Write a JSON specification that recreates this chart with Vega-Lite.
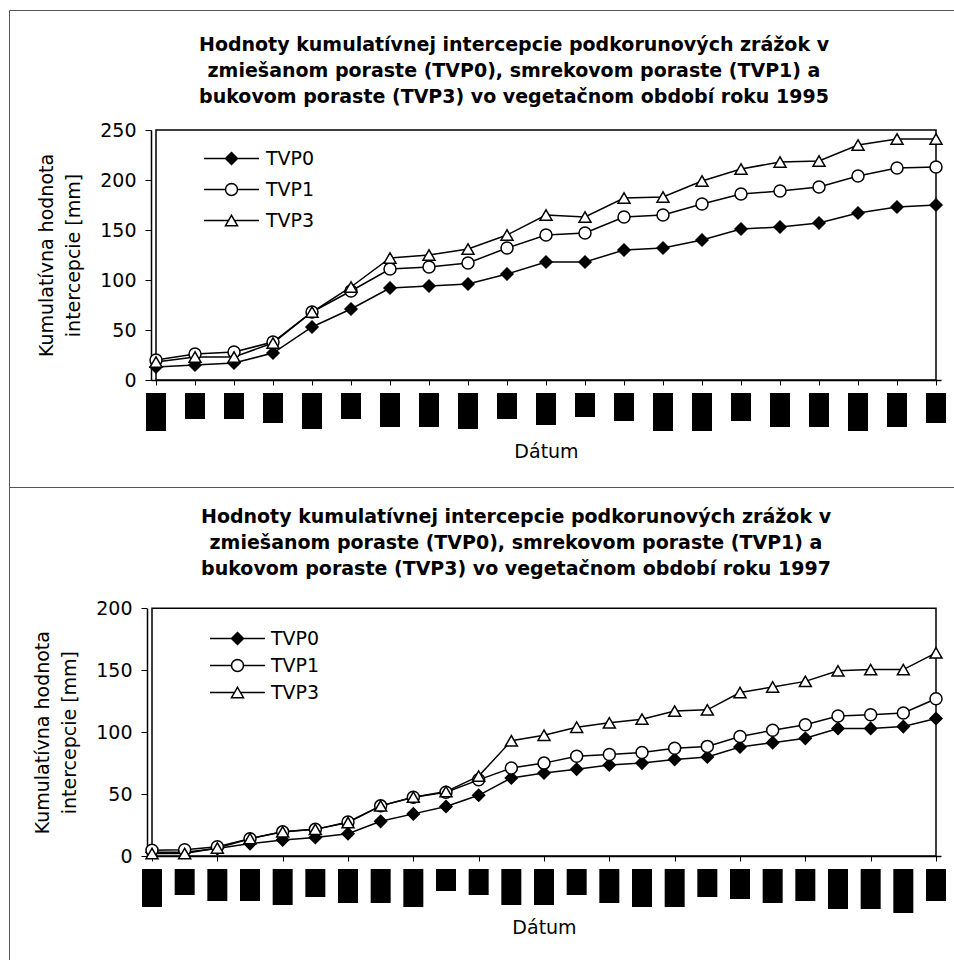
{
  "$schema": "https://vega.github.io/schema/vega-lite/v6.json",
  "padding": {"left": 8, "top": 9, "right": 0, "bottom": 0},
  "bounds": "flush",
  "spacing": 0,
  "resolve": {"scale": {"shape": "independent", "fill": "independent"}, "legend": {"shape": "independent", "fill": "independent"}},
  "config": {
    "font": "DejaVu Sans",
    "view": {"stroke": "#555555", "strokeWidth": 1},
    "axis": {
      "grid": false,
      "domainColor": "black",
      "domainWidth": 1.5,
      "tickColor": "black",
      "tickWidth": 1,
      "labelFont": "DejaVu Sans",
      "labelFontSize": 19,
      "labelColor": "black",
      "titleFont": "DejaVu Sans",
      "titleFontSize": 19,
      "titleFontWeight": "normal",
      "titleColor": "black"
    },
    "title": {
      "font": "DejaVu Sans",
      "fontSize": 19,
      "fontWeight": "bold",
      "color": "black",
      "lineHeight": 26,
      "anchor": "middle",
      "frame": "group"
    }
  },
  "datasets": {
    "s1995": [
      {"i": 1, "serie": "TVP0", "v": 13}, {"i": 2, "serie": "TVP0", "v": 15}, {"i": 3, "serie": "TVP0", "v": 17},
      {"i": 4, "serie": "TVP0", "v": 27}, {"i": 5, "serie": "TVP0", "v": 53}, {"i": 6, "serie": "TVP0", "v": 71},
      {"i": 7, "serie": "TVP0", "v": 92}, {"i": 8, "serie": "TVP0", "v": 94}, {"i": 9, "serie": "TVP0", "v": 96},
      {"i": 10, "serie": "TVP0", "v": 106}, {"i": 11, "serie": "TVP0", "v": 118}, {"i": 12, "serie": "TVP0", "v": 118},
      {"i": 13, "serie": "TVP0", "v": 130}, {"i": 14, "serie": "TVP0", "v": 132}, {"i": 15, "serie": "TVP0", "v": 140},
      {"i": 16, "serie": "TVP0", "v": 151}, {"i": 17, "serie": "TVP0", "v": 153}, {"i": 18, "serie": "TVP0", "v": 157},
      {"i": 19, "serie": "TVP0", "v": 167}, {"i": 20, "serie": "TVP0", "v": 173}, {"i": 21, "serie": "TVP0", "v": 175},
      {"i": 1, "serie": "TVP1", "v": 20}, {"i": 2, "serie": "TVP1", "v": 26}, {"i": 3, "serie": "TVP1", "v": 28},
      {"i": 4, "serie": "TVP1", "v": 38}, {"i": 5, "serie": "TVP1", "v": 68}, {"i": 6, "serie": "TVP1", "v": 89},
      {"i": 7, "serie": "TVP1", "v": 111}, {"i": 8, "serie": "TVP1", "v": 113}, {"i": 9, "serie": "TVP1", "v": 117},
      {"i": 10, "serie": "TVP1", "v": 132}, {"i": 11, "serie": "TVP1", "v": 145}, {"i": 12, "serie": "TVP1", "v": 147},
      {"i": 13, "serie": "TVP1", "v": 163}, {"i": 14, "serie": "TVP1", "v": 165}, {"i": 15, "serie": "TVP1", "v": 176},
      {"i": 16, "serie": "TVP1", "v": 186}, {"i": 17, "serie": "TVP1", "v": 189}, {"i": 18, "serie": "TVP1", "v": 193},
      {"i": 19, "serie": "TVP1", "v": 204}, {"i": 20, "serie": "TVP1", "v": 212}, {"i": 21, "serie": "TVP1", "v": 213},
      {"i": 1, "serie": "TVP3", "v": 18}, {"i": 2, "serie": "TVP3", "v": 23}, {"i": 3, "serie": "TVP3", "v": 23},
      {"i": 4, "serie": "TVP3", "v": 37}, {"i": 5, "serie": "TVP3", "v": 68}, {"i": 6, "serie": "TVP3", "v": 93},
      {"i": 7, "serie": "TVP3", "v": 122}, {"i": 8, "serie": "TVP3", "v": 125}, {"i": 9, "serie": "TVP3", "v": 131},
      {"i": 10, "serie": "TVP3", "v": 145}, {"i": 11, "serie": "TVP3", "v": 165}, {"i": 12, "serie": "TVP3", "v": 163},
      {"i": 13, "serie": "TVP3", "v": 182}, {"i": 14, "serie": "TVP3", "v": 183}, {"i": 15, "serie": "TVP3", "v": 199},
      {"i": 16, "serie": "TVP3", "v": 211}, {"i": 17, "serie": "TVP3", "v": 218}, {"i": 18, "serie": "TVP3", "v": 219},
      {"i": 19, "serie": "TVP3", "v": 235}, {"i": 20, "serie": "TVP3", "v": 241}, {"i": 21, "serie": "TVP3", "v": 241}
    ],
    "l1995": [
      {"i": 1, "len": 38}, {"i": 2, "len": 26}, {"i": 3, "len": 26}, {"i": 4, "len": 30}, {"i": 5, "len": 36},
      {"i": 6, "len": 26}, {"i": 7, "len": 34}, {"i": 8, "len": 34}, {"i": 9, "len": 36}, {"i": 10, "len": 26},
      {"i": 11, "len": 32}, {"i": 12, "len": 24}, {"i": 13, "len": 28}, {"i": 14, "len": 38}, {"i": 15, "len": 38},
      {"i": 16, "len": 28}, {"i": 17, "len": 34}, {"i": 18, "len": 34}, {"i": 19, "len": 38}, {"i": 20, "len": 34},
      {"i": 21, "len": 30}
    ],
    "s1997": [
      {"i": 1, "serie": "TVP0", "v": 3}, {"i": 2, "serie": "TVP0", "v": 3}, {"i": 3, "serie": "TVP0", "v": 6},
      {"i": 4, "serie": "TVP0", "v": 10}, {"i": 5, "serie": "TVP0", "v": 13}, {"i": 6, "serie": "TVP0", "v": 15},
      {"i": 7, "serie": "TVP0", "v": 18}, {"i": 8, "serie": "TVP0", "v": 28}, {"i": 9, "serie": "TVP0", "v": 34},
      {"i": 10, "serie": "TVP0", "v": 40}, {"i": 11, "serie": "TVP0", "v": 49}, {"i": 12, "serie": "TVP0", "v": 63},
      {"i": 13, "serie": "TVP0", "v": 67}, {"i": 14, "serie": "TVP0", "v": 70}, {"i": 15, "serie": "TVP0", "v": 73.5},
      {"i": 16, "serie": "TVP0", "v": 75}, {"i": 17, "serie": "TVP0", "v": 78}, {"i": 18, "serie": "TVP0", "v": 80},
      {"i": 19, "serie": "TVP0", "v": 88}, {"i": 20, "serie": "TVP0", "v": 91.5}, {"i": 21, "serie": "TVP0", "v": 95},
      {"i": 22, "serie": "TVP0", "v": 103}, {"i": 23, "serie": "TVP0", "v": 103}, {"i": 24, "serie": "TVP0", "v": 104.5},
      {"i": 25, "serie": "TVP0", "v": 111},
      {"i": 1, "serie": "TVP1", "v": 4.6}, {"i": 2, "serie": "TVP1", "v": 5}, {"i": 3, "serie": "TVP1", "v": 7.5},
      {"i": 4, "serie": "TVP1", "v": 14}, {"i": 5, "serie": "TVP1", "v": 19.5}, {"i": 6, "serie": "TVP1", "v": 21.5},
      {"i": 7, "serie": "TVP1", "v": 27.5}, {"i": 8, "serie": "TVP1", "v": 40.5}, {"i": 9, "serie": "TVP1", "v": 47.5},
      {"i": 10, "serie": "TVP1", "v": 51.5}, {"i": 11, "serie": "TVP1", "v": 61.5}, {"i": 12, "serie": "TVP1", "v": 71},
      {"i": 13, "serie": "TVP1", "v": 75}, {"i": 14, "serie": "TVP1", "v": 80.5}, {"i": 15, "serie": "TVP1", "v": 82},
      {"i": 16, "serie": "TVP1", "v": 83.5}, {"i": 17, "serie": "TVP1", "v": 87}, {"i": 18, "serie": "TVP1", "v": 88.5},
      {"i": 19, "serie": "TVP1", "v": 96.5}, {"i": 20, "serie": "TVP1", "v": 101.5}, {"i": 21, "serie": "TVP1", "v": 106},
      {"i": 22, "serie": "TVP1", "v": 113}, {"i": 23, "serie": "TVP1", "v": 114}, {"i": 24, "serie": "TVP1", "v": 115.5},
      {"i": 25, "serie": "TVP1", "v": 127},
      {"i": 1, "serie": "TVP3", "v": 2}, {"i": 2, "serie": "TVP3", "v": 2}, {"i": 3, "serie": "TVP3", "v": 6.5},
      {"i": 4, "serie": "TVP3", "v": 14}, {"i": 5, "serie": "TVP3", "v": 19.5}, {"i": 6, "serie": "TVP3", "v": 21.5},
      {"i": 7, "serie": "TVP3", "v": 27}, {"i": 8, "serie": "TVP3", "v": 40.5}, {"i": 9, "serie": "TVP3", "v": 47.5},
      {"i": 10, "serie": "TVP3", "v": 52}, {"i": 11, "serie": "TVP3", "v": 64.5}, {"i": 12, "serie": "TVP3", "v": 93},
      {"i": 13, "serie": "TVP3", "v": 97.5}, {"i": 14, "serie": "TVP3", "v": 104}, {"i": 15, "serie": "TVP3", "v": 107.5},
      {"i": 16, "serie": "TVP3", "v": 110.5}, {"i": 17, "serie": "TVP3", "v": 117}, {"i": 18, "serie": "TVP3", "v": 118},
      {"i": 19, "serie": "TVP3", "v": 132}, {"i": 20, "serie": "TVP3", "v": 136.5}, {"i": 21, "serie": "TVP3", "v": 141},
      {"i": 22, "serie": "TVP3", "v": 149.5}, {"i": 23, "serie": "TVP3", "v": 150.5}, {"i": 24, "serie": "TVP3", "v": 150.5},
      {"i": 25, "serie": "TVP3", "v": 164}
    ],
    "l1997": [
      {"i": 1, "len": 38}, {"i": 2, "len": 26}, {"i": 3, "len": 32}, {"i": 4, "len": 32}, {"i": 5, "len": 36},
      {"i": 6, "len": 28}, {"i": 7, "len": 34}, {"i": 8, "len": 34}, {"i": 9, "len": 38}, {"i": 10, "len": 22},
      {"i": 11, "len": 26}, {"i": 12, "len": 36}, {"i": 13, "len": 36}, {"i": 14, "len": 26}, {"i": 15, "len": 34},
      {"i": 16, "len": 38}, {"i": 17, "len": 38}, {"i": 18, "len": 28}, {"i": 19, "len": 30}, {"i": 20, "len": 34},
      {"i": 21, "len": 32}, {"i": 22, "len": 40}, {"i": 23, "len": 40}, {"i": 24, "len": 44}, {"i": 25, "len": 32}
    ]
  },
  "vconcat": [
    {
      "width": 948,
      "height": 477,
      "title": {
        "text": [
          "Hodnoty kumulatívnej intercepcie podkorunových zrážok v",
          "zmiešanom poraste (TVP0), smrekovom poraste (TVP1) a",
          "bukovom poraste (TVP3) vo vegetačnom období roku 1995"
        ],
        "offset": -97,
        "dx": 31
      },
      "layer": [
        {
          "data": {"name": "s1995"},
          "layer": [
            {
              "mark": {"type": "rect", "filled": false, "color": "black", "strokeWidth": 1.5},
              "encoding": {
                "x": {"aggregate": "min", "field": "i", "type": "quantitative",
                      "scale": {"domain": [1, 21], "range": [142, 932], "nice": false, "zero": false},
                      "axis": {"values": [1,2,3,4,5,6,7,8,9,10,11,12,13,14,15,16,17,18,19,20,21], "offset": -107, "labels": false, "tickSize": 5, "title": "Dátum", "titlePadding": 57}},
                "x2": {"aggregate": "max", "field": "i"},
                "y": {"datum": 0, "type": "quantitative",
                      "scale": {"domain": [0, 250], "range": [370, 120], "nice": false, "zero": false},
                      "axis": {"values": [0, 50, 100, 150, 200, 250], "offset": -142, "tickSize": 6, "labelPadding": 9,
                               "title": ["Kumulatívna hodnota", "intercepcie [mm]"], "titlePadding": 16, "titleLineHeight": 27}},
                "y2": {"datum": 250}
              }
            },
            {
              "mark": {"type": "line", "color": "black", "strokeWidth": 1.5},
              "encoding": {
                "x": {"field": "i", "type": "quantitative"},
                "y": {"field": "v", "type": "quantitative"},
                "detail": {"field": "serie", "type": "nominal"}
              }
            },
            {
              "mark": {"type": "point", "filled": true, "size": 144, "stroke": "black", "strokeWidth": 1.5, "opacity": 1},
              "encoding": {
                "x": {"field": "i", "type": "quantitative"},
                "y": {"field": "v", "type": "quantitative"},
                "shape": {"field": "serie", "type": "nominal",
                  "scale": {"domain": ["TVP3", "TVP1", "TVP0"], "range": ["triangle-up", "circle", "diamond"]},
                  "legend": null},
                "fill": {"field": "serie", "type": "nominal",
                  "scale": {"domain": ["TVP1", "TVP0", "TVP3"], "range": ["white", "black", "white"]},
                  "legend": null}
              }
            },
            {
              "transform": [{"filter": "datum.v < 0"}],
              "mark": {"type": "point", "filled": true, "size": 144, "color": "white", "stroke": "black", "strokeWidth": 1.5, "opacity": 1},
              "encoding": {
                "x": {"field": "i", "type": "quantitative"},
                "y": {"field": "v", "type": "quantitative"},
                "shape": {"field": "serie", "type": "nominal",
                  "scale": {"domain": ["TVP0", "TVP1", "TVP3"], "range": [
                    "M-4.583,0H4.583M0,-1L1,0L0,1L-1,0ZM0,-0.75L0.75,0L0,0.75L-0.75,0ZM0,-0.5L0.5,0L0,0.5L-0.5,0ZM0,-0.25L0.25,0L0,0.25L-0.25,0Z",
                    "M-4.583,0H-1M1,0H4.583M1,0L0.9239,0.3827L0.7071,0.7071L0.3827,0.9239L0,1L-0.3827,0.9239L-0.7071,0.7071L-0.9239,0.3827L-1,0L-0.9239,-0.3827L-0.7071,-0.7071L-0.3827,-0.9239L0,-1L0.3827,-0.9239L0.7071,-0.7071L0.9239,-0.3827Z",
                    "M-4.583,0H-0.5M0.5,0H4.583M0,-0.866L1,0.866L-1,0.866Z"
                  ]},
                  "legend": {
                    "title": null, "orient": "none", "legendX": 213, "legendY": 139, "padding": 0,
                    "symbolSize": 144, "labelOffset": 25, "labelFont": "DejaVu Sans", "labelFontSize": 19, "labelColor": "black",
                    "rowPadding": 11, "symbolStrokeWidth": 1.5, "symbolOpacity": 1
                  }}
              }
            }
          ],
          "resolve": {"scale": {"shape": "independent"}}
        },
        {
          "data": {"name": "l1995"},
          "mark": {"type": "bar", "color": "black", "width": 20},
          "encoding": {
            "x": {"field": "i", "type": "quantitative",
                  "scale": {"domain": [1, 21], "range": [142, 932], "nice": false, "zero": false}},
            "y": {"field": "len", "type": "quantitative",
                  "scale": {"domain": [0, 50], "range": [383, 433], "nice": false, "zero": false}, "axis": null},
            "y2": {"datum": 0}
          }
        }
      ],
      "resolve": {"scale": {"y": "independent"}}
    },
    {
      "width": 948,
      "height": 476,
      "title": {
        "text": [
          "Hodnoty kumulatívnej intercepcie podkorunových zrážok v",
          "zmiešanom poraste (TVP0), smrekovom poraste (TVP1) a",
          "bukovom poraste (TVP3) vo vegetačnom období roku 1997"
        ],
        "offset": -92,
        "dx": 33
      },
      "layer": [
        {
          "data": {"name": "s1997"},
          "layer": [
            {
              "mark": {"type": "rect", "filled": false, "color": "black", "strokeWidth": 1.5},
              "encoding": {
                "x": {"aggregate": "min", "field": "i", "type": "quantitative",
                      "scale": {"domain": [1, 25], "range": [138, 932], "nice": false, "zero": false},
                      "axis": {"values": [1,2,3,4,5,6,7,8,9,10,11,12,13,14,15,16,17,18,19,20,21,22,23,24,25], "offset": -107, "labels": false, "tickSize": 5, "title": "Dátum", "titlePadding": 57}},
                "x2": {"aggregate": "max", "field": "i"},
                "y": {"datum": 0, "type": "quantitative",
                      "scale": {"domain": [0, 200], "range": [369, 121.3], "nice": false, "zero": false},
                      "axis": {"values": [0, 50, 100, 150, 200], "offset": -138, "tickSize": 6, "labelPadding": 9,
                               "title": ["Kumulatívna hodnota", "intercepcie [mm]"], "titlePadding": 16, "titleLineHeight": 27}},
                "y2": {"datum": 200}
              }
            },
            {
              "mark": {"type": "line", "color": "black", "strokeWidth": 1.5},
              "encoding": {
                "x": {"field": "i", "type": "quantitative"},
                "y": {"field": "v", "type": "quantitative"},
                "detail": {"field": "serie", "type": "nominal"}
              }
            },
            {
              "mark": {"type": "point", "filled": true, "size": 144, "stroke": "black", "strokeWidth": 1.5, "opacity": 1},
              "encoding": {
                "x": {"field": "i", "type": "quantitative"},
                "y": {"field": "v", "type": "quantitative"},
                "shape": {"field": "serie", "type": "nominal",
                  "scale": {"domain": ["TVP3", "TVP1", "TVP0"], "range": ["triangle-up", "circle", "diamond"]},
                  "legend": null},
                "fill": {"field": "serie", "type": "nominal",
                  "scale": {"domain": ["TVP1", "TVP0", "TVP3"], "range": ["white", "black", "white"]},
                  "legend": null}
              }
            },
            {
              "transform": [{"filter": "datum.v < 0"}],
              "mark": {"type": "point", "filled": true, "size": 144, "color": "white", "stroke": "black", "strokeWidth": 1.5, "opacity": 1},
              "encoding": {
                "x": {"field": "i", "type": "quantitative"},
                "y": {"field": "v", "type": "quantitative"},
                "shape": {"field": "serie", "type": "nominal",
                  "scale": {"domain": ["TVP0", "TVP1", "TVP3"], "range": [
                    "M-4.583,0H4.583M0,-1L1,0L0,1L-1,0ZM0,-0.75L0.75,0L0,0.75L-0.75,0ZM0,-0.5L0.5,0L0,0.5L-0.5,0ZM0,-0.25L0.25,0L0,0.25L-0.25,0Z",
                    "M-4.583,0H-1M1,0H4.583M1,0L0.9239,0.3827L0.7071,0.7071L0.3827,0.9239L0,1L-0.3827,0.9239L-0.7071,0.7071L-0.9239,0.3827L-1,0L-0.9239,-0.3827L-0.7071,-0.7071L-0.3827,-0.9239L0,-1L0.3827,-0.9239L0.7071,-0.7071L0.9239,-0.3827Z",
                    "M-4.583,0H-0.5M0.5,0H4.583M0,-0.866L1,0.866L-1,0.866Z"
                  ]},
                  "legend": {
                    "title": null, "orient": "none", "legendX": 219, "legendY": 142, "padding": 0,
                    "symbolSize": 144, "labelOffset": 24, "labelFont": "DejaVu Sans", "labelFontSize": 19, "labelColor": "black",
                    "rowPadding": 7, "symbolStrokeWidth": 1.5, "symbolOpacity": 1
                  }}
              }
            }
          ],
          "resolve": {"scale": {"shape": "independent"}}
        },
        {
          "data": {"name": "l1997"},
          "mark": {"type": "bar", "color": "black", "width": 20},
          "encoding": {
            "x": {"field": "i", "type": "quantitative",
                  "scale": {"domain": [1, 25], "range": [138, 932], "nice": false, "zero": false}},
            "y": {"field": "len", "type": "quantitative",
                  "scale": {"domain": [0, 50], "range": [382, 432], "nice": false, "zero": false}, "axis": null},
            "y2": {"datum": 0}
          }
        }
      ],
      "resolve": {"scale": {"y": "independent"}}
    }
  ]
}
